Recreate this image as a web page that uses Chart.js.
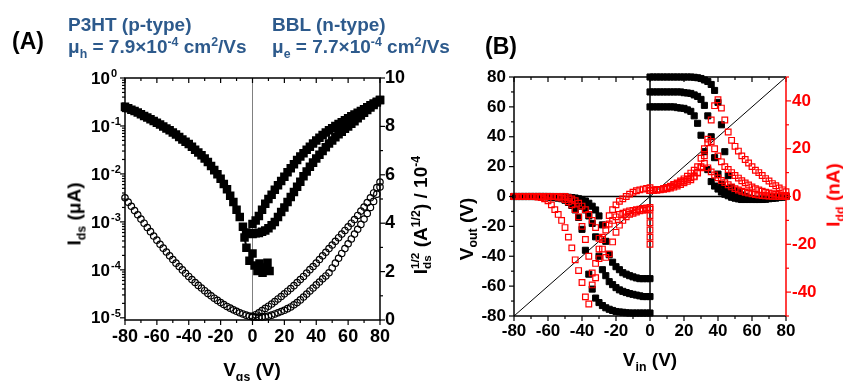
<!DOCTYPE html>
<html>
<head>
<meta charset="utf-8">
<title>P3HT / BBL transistor and inverter</title>
<script src="https://cdn.jsdelivr.net/npm/chart.js@4.4.1/dist/chart.umd.min.js"></script>
<style>
  html, body { margin: 0; padding: 0; background: #fff; }
  body { position: relative; width: 843px; height: 381px; overflow: hidden;
         font-family: "Liberation Sans", Arial, Helvetica, sans-serif; font-weight: bold; }
  canvas { position: absolute; top: 0; }
  #chartA { left: 0; }
  #chartB { left: 430px; }
  .txt { position: absolute; white-space: nowrap; line-height: 1; }
  .blue { color: #2d5a8c; font-size: 19px; }
  .panel { font-size: 23px; color: #000; }
  .title { font-size: 19px; color: #000; }
  .vert { transform: translate(-50%, -50%) rotate(-90deg); }
  .horiz { transform: translateX(-50%); }
  sub, sup { font-size: 0.65em; line-height: 0; }
  .stack { display: inline-block; vertical-align: -0.3em; font-size: 0.62em; line-height: 1; }
  .stack span { display: block; }
</style>
</head>
<body>
<canvas id="chartA" width="440" height="381"></canvas>
<canvas id="chartB" width="413" height="381"></canvas>

<div class="txt panel" style="left:12px; top:30px;">(A)</div>
<div class="txt panel" style="left:485px; top:35px;">(B)</div>
<div class="txt blue" style="left:68px; top:15px;">P3HT (p-type)</div>
<div class="txt blue" style="left:68px; top:37px;">μ<sub>h</sub> = 7.9×10<sup>-4</sup> cm<sup>2</sup>/Vs</div>
<div class="txt blue" style="left:272px; top:15px;">BBL (n-type)</div>
<div class="txt blue" style="left:272px; top:37px;">μ<sub>e</sub> = 7.7×10<sup>-4</sup> cm<sup>2</sup>/Vs</div>

<div class="txt title vert" style="left:74px; top:214px;">I<sub>ds</sub> (μA)</div>
<div class="txt title vert" style="left:421px; top:215px;">I<span class="stack"><span>1/2</span><span>ds</span></span> (A<sup>1/2</sup>) / 10<sup>-4</sup></div>
<div class="txt title horiz" style="left:252px; top:360px;">V<sub>gs</sub> (V)</div>
<div class="txt title vert" style="left:466px; top:229px;">V<sub>out</sub> (V)</div>
<div class="txt title vert" style="left:833px; top:195px; color:#ff0000;">I<sub>dd</sub> (nA)</div>
<div class="txt title horiz" style="left:650px; top:350px;">V<sub>in</sub> (V)</div>

<script>
// sweep grids (V), 2 V steps
const gridNeg = [-80, -78, -76, -74, -72, -70, -68, -66, -64, -62, -60, -58, -56, -54, -52, -50, -48, -46, -44, -42,
  -40, -38, -36, -34, -32, -30, -28, -26, -24, -22, -20, -18, -16, -14, -12, -10, -8, -6, -4, -2, 0];
const gridPos = [0, 2, 4, 6, 8, 10, 12, 14, 16, 18, 20, 22, 24, 26, 28, 30, 32, 34, 36, 38,
  40, 42, 44, 46, 48, 50, 52, 54, 56, 58, 60, 62, 64, 66, 68, 70, 72, 74, 76, 78, 80];

// (A) transfer curves: Ids in uA (log axis)
const idsP3ht = [0.25, 0.234, 0.219, 0.204, 0.191, 0.176, 0.162, 0.15, 0.138, 0.127, 0.117, 0.107, 0.098, 0.089, 0.081,
  0.073, 0.066, 0.059, 0.052, 0.047, 0.042, 0.037, 0.032, 0.028, 0.0245, 0.021, 0.0178, 0.0146, 0.012, 0.0098, 0.0079,
  0.0062, 0.0048, 0.0035, 0.0026, 0.0018, 0.00126, 0.00079, 0.0006, 0.00058, 0.00056];
const idsBblFwd = [0.0009, 0.00107, 0.00132, 0.0018, 0.0024, 0.003, 0.0037, 0.0047, 0.0058, 0.0071, 0.0087, 0.0108,
  0.0132, 0.016, 0.0195, 0.023, 0.027, 0.032, 0.037, 0.043, 0.05, 0.057, 0.065, 0.073, 0.081, 0.09, 0.1, 0.11, 0.12,
  0.132, 0.145, 0.159, 0.174, 0.188, 0.204, 0.224, 0.245, 0.27, 0.295, 0.32, 0.347];
const idsBblRev = [0.00058, 0.00058, 0.00059, 0.00062, 0.00066, 0.00074, 0.00085, 0.001, 0.00126, 0.0016, 0.002,
  0.0026, 0.0033, 0.0042, 0.0054, 0.0069, 0.0089, 0.0112, 0.0141, 0.0172, 0.021, 0.025, 0.03, 0.036, 0.043, 0.05, 0.058,
  0.067, 0.076, 0.087, 0.098, 0.111, 0.126, 0.145, 0.166, 0.188, 0.214, 0.243, 0.275, 0.31, 0.347];
const vgsOff = [-5, -3.8, 0, -1.9, 1.3, 4.4, 6.3, 9.4, 10.7, 6.3, 3.1];
const idsOff = [0.00047, 0.00029, 0.00022, 0.000155, 0.000123, 0.000135, 0.000112, 0.000141, 0.000095, 0.000087, 0.000095];

// (A) sqrt(Ids) in 1e-4 A^1/2 (right axis)
const sqrtP3ht = [5.05, 4.87, 4.7, 4.52, 4.35, 4.17, 4.0, 3.82, 3.65, 3.47, 3.3, 3.13, 2.97, 2.81, 2.65, 2.5, 2.35, 2.21,
  2.07, 1.93, 1.8, 1.67, 1.55, 1.43, 1.32, 1.21, 1.1, 1.0, 0.9, 0.81, 0.72, 0.64, 0.56, 0.49, 0.42, 0.36, 0.3, 0.25, 0.2,
  0.16, 0.14];
const sqrtBblFwd = [0.15, 0.22, 0.3, 0.39, 0.48, 0.57, 0.66, 0.76, 0.87, 0.97, 1.08, 1.19, 1.3, 1.42, 1.55, 1.67, 1.8,
  1.94, 2.08, 2.21, 2.35, 2.5, 2.65, 2.8, 2.95, 3.1, 3.25, 3.4, 3.55, 3.7, 3.85, 4.0, 4.15, 4.32, 4.5, 4.67, 4.85, 5.05,
  5.25, 5.47, 5.7];
const sqrtBblRev = [0.12, 0.12, 0.12, 0.12, 0.13, 0.16, 0.2, 0.25, 0.3, 0.35, 0.4, 0.47, 0.54, 0.63, 0.72, 0.83, 0.95,
  1.07, 1.2, 1.32, 1.45, 1.57, 1.7, 1.82, 1.95, 2.15, 2.35, 2.55, 2.75, 2.95, 3.15, 3.35, 3.55, 3.75, 3.95, 4.17, 4.4,
  4.65, 4.9, 5.2, 5.5];

// (B) inverter: Vout (V) for VDD = +80/+70/+60 (Vin >= 0) and -80/-70/-60 (Vin <= 0)
const voutP80 = [80, 80, 80, 80, 80, 80, 80, 80, 80, 80, 80, 80, 80, 79.8, 79.5, 79, 78, 77, 75, 71, 63, 48, 30, 14, 6,
  4, 2.5, 1, 0, -1, -1.5, -2, -2, -2, -1.8, -1.5, -1.2, -1, -0.7, -0.4, 0];
const voutP70 = [70, 70, 70, 70, 70, 70, 70, 70, 70, 70, 69.5, 69.3, 69, 68, 67, 65, 61, 54, 40, 26, 15, 8, 5, 2, 0,
  -1, -1.5, -2, -2, -2, -2, -2, -2, -1.8, -1.5, -1.2, -1, -0.8, -0.5, -0.3, 0];
const voutP60 = [60, 60, 60, 60, 60, 60, 60, 60, 59.5, 59.2, 59, 58, 57, 54, 49, 41, 30, 18, 10, 7, 5, 3, 1.5, 0.5,
  -0.5, -1, -1.5, -2, -2, -2, -2, -2, -2, -1.8, -1.5, -1.2, -1, -0.8, -0.5, -0.3, 0];
const voutN80 = [0, 0, 0, 0, 0, 0, 0, 0, 0, 0, -0.3, -0.5, -0.8, -1.1, -1.5, -2.5, -4, -6, -9, -14, -22, -36, -52, -62,
  -68, -71, -73, -74.5, -75.5, -76.3, -77, -77.3, -77.5, -77.8, -78, -78, -78, -78, -78, -78, -78];
const voutN70 = [0, 0, 0, 0, 0, 0, 0, 0, 0, 0, 0, 0, -0.3, -0.5, -0.8, -1.1, -1.5, -2.2, -3, -4.5, -6.5, -9, -13, -18,
  -27, -40, -49, -53, -57, -59, -61, -62.5, -63.5, -64.3, -65, -65.5, -66, -66.5, -67, -67, -67];
const voutN60 = [0, 0, 0, 0, 0, 0, 0, 0, 0, 0, 0, 0, 0, 0, 0, 0, -0.5, -0.7, -1, -1.5, -2, -3, -4.5, -6.5, -9, -13,
  -19, -30, -39, -44, -47, -49, -51, -52, -53, -53.8, -54.5, -55, -55, -55, -55];

// (B) supply current Idd (nA)
const iddP80 = [2.5, 2.6, 2.7, 2.8, 3, 3.2, 3.5, 3.9, 4.4, 5, 5.7, 6.3, 7, 8.2, 9.8, 12, 17, 24, 32, 38, 40.5, 37, 32,
  27, 23.5, 21, 19, 17, 15.5, 14, 12.5, 11, 10, 8.8, 7.5, 6.5, 5.4, 4.5, 3.6, 2.8, 2];
const iddP70 = [2.5, 2.6, 2.8, 3, 3.3, 3.8, 4.3, 5, 5.7, 6.5, 7.4, 8.5, 9.8, 11, 12.5, 16, 20, 22.5, 23, 20, 17, 14.5,
  12.5, 11.3, 10, 8.8, 7.7, 6.6, 5.7, 4.8, 4, 3.3, 2.7, 2.2, 1.8, 1.5, 1.2, 0.9, 0.7, 0.5, 0.4];
const iddP60 = [2.5, 2.6, 2.8, 3, 3.3, 3.7, 4.2, 4.8, 5.4, 6, 6.6, 7.2, 7.8, 8.5, 10, 12.5, 13.8, 12, 10.3, 9, 7.8, 6.7,
  5.8, 4.9, 4, 3.3, 2.7, 2.2, 1.8, 1.4, 1.1, 0.8, 0.6, 0.4, 0.3, 0.2, 0.1, 0.1, 0, 0, 0];
const iddN80 = [0, 0, 0, 0, 0, 0, 0, -0.2, -0.5, -1, -1.8, -3.5, -5.5, -7.5, -10, -13, -17, -21.5, -26.5, -31, -36, -42,
  -45, -37, -28, -22, -17, -14, -11.5, -10, -8.5, -7.5, -7, -6.5, -6, -5.8, -5.5, -5.3, -5, -4.8, -4.6];
const iddN70 = [0, 0, 0, 0, 0, 0, 0, 0, 0, 0, 0, 0, 0, -0.3, -0.7, -1.3, -2.2, -3.5, -5.5, -8.5, -12.5, -18, -25, -32,
  -34, -26, -18, -12, -8, -5.5, -3.5, -2, -1, 0, 1, 1.8, 2.4, 2.8, 3.1, 3.4, 3.7];
const iddN60 = [0, 0, 0, 0, 0, 0, 0, 0, 0, 0, 0, 0, 0, 0, 0, 0, -0.5, -1, -1.8, -2.8, -4, -5.5, -7.5, -10, -13, -17.5,
  -22, -25.5, -24, -19, -15, -12, -10, -8.5, -7.5, -7, -6.5, -6, -5.8, -5.5, -5.3];
const vinDrop = [0, 0, 0, 0, 0];
const iddDrop = [-8, -11, -14, -17, -20];

// tick labels of the log axis
const ampTicks = [1, 0.1, 0.01, 0.001, 0.0001, 0.00001];
const ampExp = ['0', '-1', '-2', '-3', '-4', '-5'];

const FONT = "'Liberation Sans', Arial, sans-serif";
const pts = (xs, ys) => xs.map((x, i) => ({ x: x, y: ys[i] }));
const font = size => ({ family: FONT, size: size, weight: 'bold' });
const everyOther = step => v => (Math.round(v) % step === 0 ? String(v) : '');

function mark(ctx, x1, y1, x2, y2) {
  ctx.beginPath();
  ctx.moveTo(x1, y1);
  ctx.lineTo(x2, y2);
  ctx.stroke();
}

// bottom ticks point out, top mirror ticks point in
function xTickMarks(ctx, scale, a) {
  scale.ticks.forEach(t => {
    const p = scale.getPixelForValue(t.value);
    const len = t.label ? 5 : 3;
    mark(ctx, p, a.bottom, p, a.bottom + len);
    mark(ctx, p, a.top, p, a.top + len);
  });
}

function yTickMarks(ctx, scale, xBase, dir) {
  scale.ticks.forEach(t => {
    const p = scale.getPixelForValue(t.value);
    const len = t.label ? 5 : 3;
    mark(ctx, xBase, p, xBase + dir * len, p);
  });
}

const panelA = {
  id: 'panelA',
  beforeDatasetsDraw(chart) {
    const { ctx, chartArea: a, scales: { x } } = chart;
    const px = x.getPixelForValue(0);
    ctx.save();
    ctx.strokeStyle = '#808080';
    ctx.lineWidth = 1;
    mark(ctx, px, a.top, px, a.bottom);
    ctx.restore();
  },
  afterDatasetsDraw(chart) {
    const { ctx, chartArea: a, scales: { x, y, y2 } } = chart;
    ctx.save();
    ctx.strokeStyle = '#000';
    ctx.fillStyle = '#000';
    ctx.lineWidth = 1.5;
    ctx.strokeRect(a.left, a.top, a.right - a.left, a.bottom - a.top);
    ctx.lineWidth = 1.2;
    xTickMarks(ctx, x, a);
    yTickMarks(ctx, y2, a.right, 1);
    // log axis: decades + 2..9 minors, labels 10^n
    ampTicks.forEach((v, i) => {
      const p = y.getPixelForValue(v);
      mark(ctx, a.left, p, a.left - 5, p);
      if (v < 1) {
        for (let m = 2; m < 10; m++) {
          const q = y.getPixelForValue(v * m);
          mark(ctx, a.left, q, a.left - 3, q);
        }
      }
      ctx.font = 'bold 17px ' + FONT;
      ctx.textAlign = 'right';
      ctx.textBaseline = 'middle';
      ctx.fillText('10', a.left - 15, p + 1);
      ctx.font = 'bold 11px ' + FONT;
      ctx.textAlign = 'left';
      ctx.textBaseline = 'alphabetic';
      ctx.fillText(ampExp[i], a.left - 14, p - 1);
    });
    ctx.restore();
  }
};

const panelB = {
  id: 'panelB',
  beforeDatasetsDraw(chart) {
    const { ctx, chartArea: a, scales: { x, y } } = chart;
    ctx.save();
    ctx.strokeStyle = '#000';
    ctx.lineWidth = 1;
    mark(ctx, x.getPixelForValue(-80), y.getPixelForValue(-80), x.getPixelForValue(80), y.getPixelForValue(80));
    ctx.lineWidth = 1.5;
    mark(ctx, x.getPixelForValue(0), a.top, x.getPixelForValue(0), a.bottom);
    mark(ctx, a.left, y.getPixelForValue(0), a.right, y.getPixelForValue(0));
    ctx.restore();
  },
  afterDatasetsDraw(chart) {
    const { ctx, chartArea: a, scales: { x, y, y2 } } = chart;
    ctx.save();
    ctx.strokeStyle = '#000';
    ctx.lineWidth = 1.5;
    mark(ctx, a.right, a.top, a.left, a.top);
    mark(ctx, a.left, a.top, a.left, a.bottom);
    mark(ctx, a.left, a.bottom, a.right, a.bottom);
    ctx.lineWidth = 1.2;
    xTickMarks(ctx, x, a);
    yTickMarks(ctx, y, a.left, -1);
    ctx.strokeStyle = '#ff0000';
    ctx.lineWidth = 1.5;
    mark(ctx, a.right, a.top, a.right, a.bottom);
    ctx.lineWidth = 1.2;
    yTickMarks(ctx, y2, a.right, 1);
    ctx.restore();
  }
};

const sqSet = (data, line) => ({
  data: data, yAxisID: 'y', showLine: line, borderColor: '#000', borderWidth: 2,
  pointStyle: 'rect', pointRadius: 4.6, pointBackgroundColor: '#000', pointBorderColor: '#000', clip: false, order: 1
});
const circSet = data => ({
  data: data, yAxisID: 'y2', showLine: false, pointStyle: 'circle', pointRadius: 3.2,
  pointBackgroundColor: 'rgba(255,255,255,0)', pointBorderColor: '#000', pointBorderWidth: 1.2, clip: false, order: 2
});

new Chart(document.getElementById('chartA'), {
  type: 'scatter',
  data: {
    datasets: [
      sqSet(pts(gridNeg, idsP3ht), false),
      sqSet(pts(gridPos, idsBblFwd), false),
      sqSet(pts(gridPos, idsBblRev), false),
      sqSet(pts(vgsOff, idsOff), true),
      circSet(pts(gridNeg, sqrtP3ht)),
      circSet(pts(gridPos, sqrtBblFwd)),
      circSet(pts(gridPos, sqrtBblRev))
    ]
  },
  options: {
    responsive: false,
    animation: false,
    events: [],
    layout: { padding: { top: 78, left: 0, right: 0, bottom: 0 } },
    plugins: { legend: { display: false }, tooltip: { enabled: false } },
    scales: {
      x: {
        type: 'linear', min: -80, max: 80,
        grid: { display: false, drawTicks: false }, border: { display: false },
        ticks: { stepSize: 10, autoSkip: false, maxRotation: 0, padding: 6, color: '#000', font: font(18),
          callback: everyOther(20) },
        afterFit(s) { s.height = 61; }
      },
      y: {
        type: 'logarithmic', position: 'left', min: 0.000009, max: 1,
        grid: { display: false, drawTicks: false }, border: { display: false },
        ticks: { display: false },
        afterFit(s) { s.width = 125; }
      },
      y2: {
        type: 'linear', position: 'right', min: 0, max: 10,
        grid: { display: false, drawTicks: false }, border: { display: false },
        ticks: { stepSize: 1, autoSkip: false, padding: 5, color: '#000', font: font(18), callback: everyOther(2) },
        afterFit(s) { s.width = 60; }
      }
    }
  },
  plugins: [panelA]
});

const blkSet = data => ({
  data: data, yAxisID: 'y', showLine: false, pointStyle: 'rect', pointRadius: 4.3,
  pointBackgroundColor: '#000', pointBorderColor: '#000', pointBorderWidth: 1, clip: false, order: 2
});
const redSet = data => ({
  data: data, yAxisID: 'y2', showLine: false, pointStyle: 'rect', pointRadius: 4,
  pointBackgroundColor: 'rgba(255,255,255,0)', pointBorderColor: '#ff0000', pointBorderWidth: 1.2, clip: false, order: 1
});

new Chart(document.getElementById('chartB'), {
  type: 'scatter',
  data: {
    datasets: [
      blkSet(pts(gridPos, voutP80)),
      blkSet(pts(gridPos, voutP70)),
      blkSet(pts(gridPos, voutP60)),
      blkSet(pts(gridNeg, voutN80)),
      blkSet(pts(gridNeg, voutN70)),
      blkSet(pts(gridNeg, voutN60)),
      redSet(pts(gridPos, iddP80)),
      redSet(pts(gridPos, iddP70)),
      redSet(pts(gridPos, iddP60)),
      redSet(pts(gridNeg, iddN80)),
      redSet(pts(gridNeg, iddN70)),
      redSet(pts(gridNeg, iddN60)),
      redSet(pts(vinDrop, iddDrop))
    ]
  },
  options: {
    responsive: false,
    animation: false,
    events: [],
    layout: { padding: { top: 77, left: 0, right: 0, bottom: 0 } },
    plugins: { legend: { display: false }, tooltip: { enabled: false } },
    scales: {
      x: {
        type: 'linear', min: -80, max: 80,
        grid: { display: false, drawTicks: false }, border: { display: false },
        ticks: { stepSize: 10, autoSkip: false, maxRotation: 0, padding: 5, color: '#000', font: font(17),
          callback: everyOther(20) },
        afterFit(s) { s.height = 65; }
      },
      y: {
        type: 'linear', position: 'left', min: -80, max: 80,
        grid: { display: false, drawTicks: false }, border: { display: false },
        ticks: { stepSize: 10, autoSkip: false, padding: 8, color: '#000', font: font(17), callback: everyOther(20) },
        afterFit(s) { s.width = 84; }
      },
      y2: {
        type: 'linear', position: 'right', min: -50, max: 50,
        grid: { display: false, drawTicks: false }, border: { display: false },
        ticks: { stepSize: 10, autoSkip: false, padding: 6, color: '#ff0000', font: font(17), callback: everyOther(20) },
        afterFit(s) { s.width = 57; }
      }
    }
  },
  plugins: [panelB]
});
</script>
</body>
</html>
